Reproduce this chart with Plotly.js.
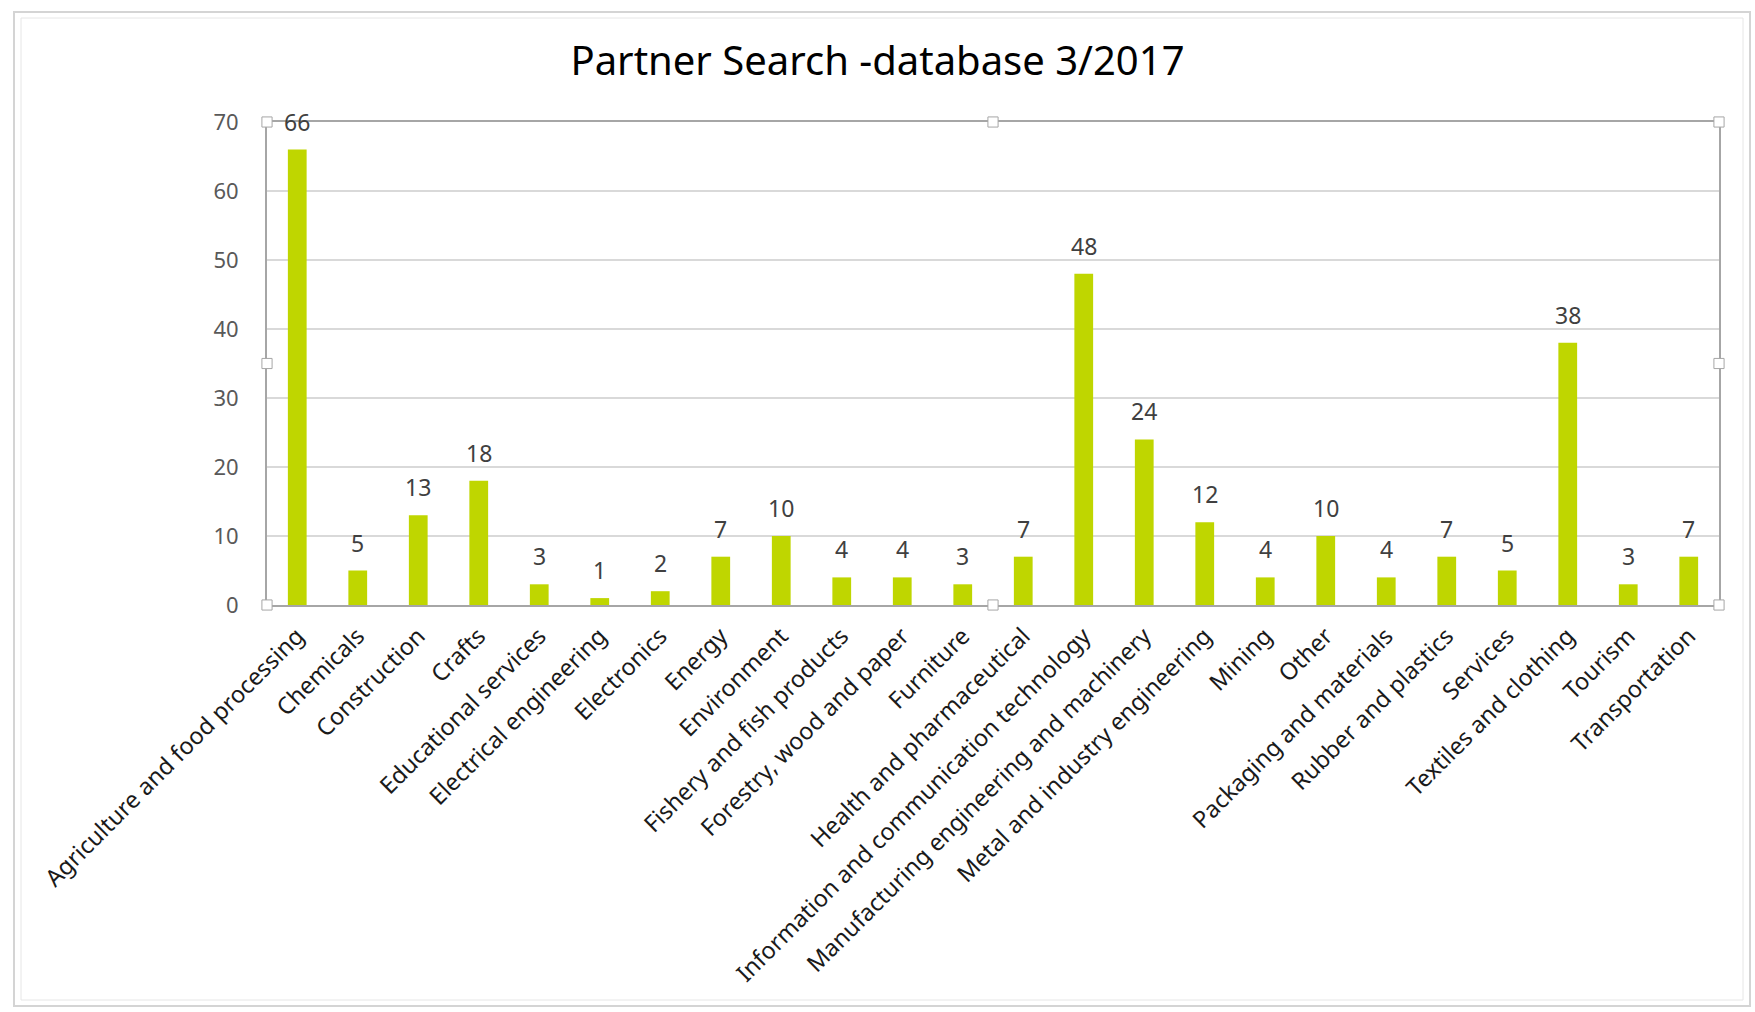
<!DOCTYPE html>
<html>
<head>
<meta charset="utf-8">
<script src="https://cdn.plot.ly/plotly-3.0.1.min.js"></script>
<style>
html,body{margin:0;padding:0;background:#fff;}
#chart{width:1755px;height:1012px;}
</style>
</head>
<body>
<div id="chart"></div>
<script>
const categories = [
  "Agriculture and food processing", "Chemicals", "Construction", "Crafts",
  "Educational services", "Electrical engineering", "Electronics", "Energy",
  "Environment", "Fishery and fish products", "Forestry, wood and paper", "Furniture",
  "Health and pharmaceutical", "Information and communication technology",
  "Manufacturing engineering and machinery", "Metal and industry engineering",
  "Mining", "Other", "Packaging and materials", "Rubber and plastics",
  "Services", "Textiles and clothing", "Tourism", "Transportation"
];
const counts = [66, 5, 13, 18, 3, 1, 2, 7, 10, 4, 4, 3, 7, 48, 24, 12, 4, 10, 4, 7, 5, 38, 3, 7];
const chartTitle = "Partner Search -database 3/2017";
const yTicks = [0, 10, 20, 30, 40, 50, 60, 70];

const FONT = "Noto Sans, Open Sans, DejaVu Sans, sans-serif";

const trace = {
  type: "bar",
  x: categories,
  y: counts,
  marker: {color: "#bfd600"},
  hoverinfo: "x+y"
};

const labelAnnotations = categories.map((c, i) => ({
  x: c, y: counts[i], xref: "x", yref: "y",
  text: String(counts[i]), showarrow: false,
  yanchor: "middle", yshift: 28,
  font: {family: FONT, size: 23, color: "#404040"}
}));

// handles on the plot-area frame (decoration)
const handlePts = [[0,0],[0.5,0],[1,0],[0,0.5],[1,0.5],[0,1],[0.5,1],[1,1]];
const handles = handlePts.map(p => ({
  type: "rect", xref: "paper", yref: "paper", layer: "above",
  x0: p[0] - 0.0035, x1: p[0] + 0.0035, y0: p[1] - 0.0105, y1: p[1] + 0.0105,
  line: {color: "#a6a6a6", width: 1}, fillcolor: "#ffffff"
}));

const layout = {
  width: 1755, height: 1012,
  paper_bgcolor: "#ffffff", plot_bgcolor: "#ffffff",
  margin: {l: 267, r: 36, t: 122, b: 407, pad: 0},
  title: {
    text: chartTitle, x: 0.5, xref: "container", xanchor: "center",
    y: 1 - 61/1012, yref: "container", yanchor: "middle",
    font: {family: FONT, size: 40, color: "#000000"}
  },
  showlegend: false,
  bargap: 0.69,
  xaxis: {
    type: "category",
    tickangle: -45,
    tickfont: {family: FONT, size: 23.5, color: "#1a1a1a"},
    showline: true, linecolor: "#a6a6a6", linewidth: 2, mirror: true,
    ticks: "", showgrid: false, automargin: false,
    ticklabelstandoff: 6
  },
  yaxis: {
    range: [0, 70], tickvals: yTicks, ticktext: yTicks.map(String),
    tickfont: {family: FONT, size: 22, color: "#595959"},
    showgrid: true, gridcolor: "#d9d9d9", gridwidth: 1.5,
    showline: true, linecolor: "#a6a6a6", linewidth: 2, mirror: true,
    ticks: "", ticklen: 0, zeroline: false, automargin: false,
    ticklabelstandoff: 22
  },
  annotations: labelAnnotations,
  shapes: [
    {type: "rect", xref: "paper", yref: "paper",
     x0: (14 - 267) / 1452, x1: (1750 - 267) / 1452,
     y0: (605 - 1006) / 483, y1: (605 - 12) / 483,
     line: {color: "#d4d4d4", width: 2}, fillcolor: "rgba(0,0,0,0)"},
    {type: "rect", xref: "paper", yref: "paper",
     x0: (21 - 267) / 1452, x1: (1743 - 267) / 1452,
     y0: (605 - 1000) / 483, y1: (605 - 18) / 483,
     line: {color: "#e6e6e6", width: 1}, fillcolor: "rgba(0,0,0,0)"}
  ].concat(handles)
};

Plotly.newPlot("chart", [trace], layout, {displayModeBar: false, staticPlot: true});
</script>
</body>
</html>
